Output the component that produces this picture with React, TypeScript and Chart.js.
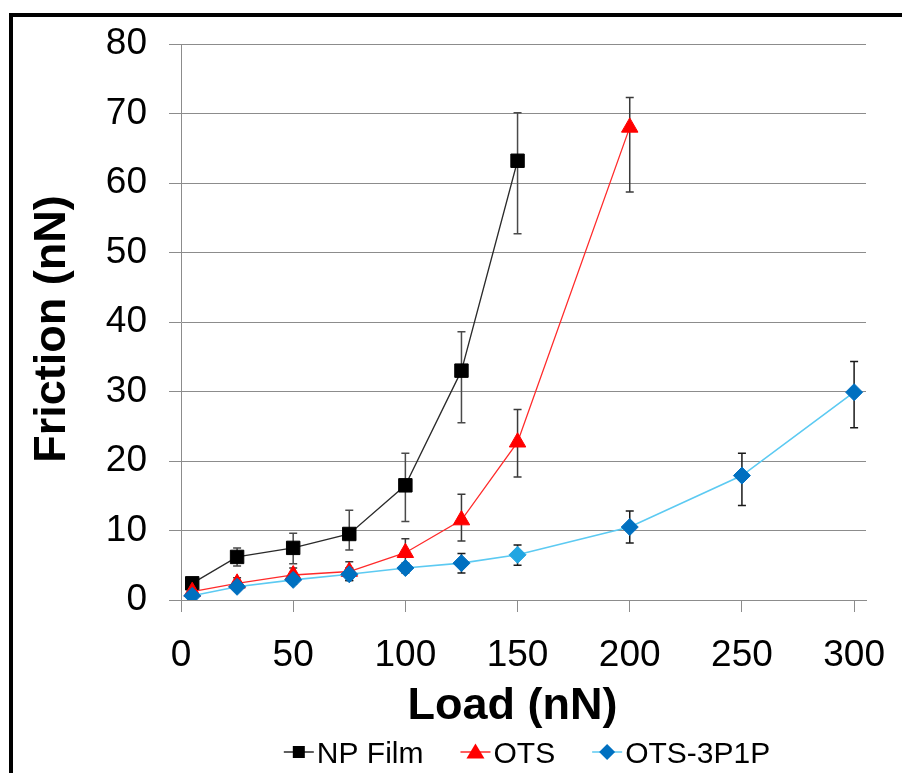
import React, { useEffect, useRef } from 'react';
import { Chart, registerables } from 'chart.js';

Chart.register(...registerables);

// ---- data ----
const seriesNames = ['NP Film', 'OTS', 'OTS-3P1P'];

const npLoad = [5, 25, 50, 75, 100, 125, 150];
const npFriction = [2.4, 6.2, 7.5, 9.5, 16.5, 33.0, 63.2];
const npErrPlus = [0.5, 1.3, 2.1, 3.4, 4.6, 5.6, 6.9];
const npErrMinus = [0.5, 1.3, 2.3, 2.3, 5.2, 7.5, 10.5];

const otsLoad = [5, 25, 50, 75, 100, 125, 150, 200];
const otsFriction = [1.2, 2.4, 3.6, 4.1, 6.8, 11.5, 22.7, 68.0];
const otsErrPlus = [0.5, 0.8, 1.0, 1.4, 2.0, 3.7, 4.7, 4.3];
const otsErrMinus = [0.5, 0.8, 1.0, 1.3, 2.0, 3.0, 5.0, 9.3];

const p1Load = [5, 25, 50, 75, 100, 125, 150, 200, 250, 300];
const p1Friction = [0.6, 1.9, 2.9, 3.7, 4.6, 5.3, 6.5, 10.5, 17.9, 29.9];
const p1ErrPlus = [0.3, 0.5, 0.6, 0.9, 0.7, 1.4, 1.4, 2.3, 3.2, 4.4];
const p1ErrMinus = [0.3, 0.5, 0.6, 0.9, 0.7, 1.4, 1.5, 2.3, 4.3, 5.1];

const xTickValues = [0, 50, 100, 150, 200, 250, 300];
const yTickValues = [0, 10, 20, 30, 40, 50, 60, 70, 80];
const xTitle = 'Load (nN)';
const yTitle = 'Friction (nN)';

const FONT = '"Liberation Sans", Arial, sans-serif';

function toPoints(xs: number[], ys: number[]) {
  return xs.map((x, i) => ({ x, y: ys[i] }));
}

function drawMarker(ctx: CanvasRenderingContext2D, style: string, x: number, y: number, color: string) {
  ctx.save();
  ctx.fillStyle = color;
  ctx.beginPath();
  if (style === 'rect') {
    ctx.rect(x - 6, y - 6, 12, 12);
  } else if (style === 'triangle') {
    ctx.moveTo(x, y - 8.5);
    ctx.lineTo(x + 9, y + 6.5);
    ctx.lineTo(x - 9, y + 6.5);
    ctx.closePath();
  } else {
    ctx.moveTo(x, y - 8);
    ctx.lineTo(x + 8, y);
    ctx.lineTo(x, y + 8);
    ctx.lineTo(x - 8, y);
    ctx.closePath();
  }
  ctx.fill();
  ctx.restore();
}

const errorBarPlugin = {
  id: 'errorBars',
  beforeDatasetsDraw(chart: any) {
    const ctx = chart.ctx;
    const yScale = chart.scales.y;
    chart.data.datasets.forEach((ds: any, i: number) => {
      const meta = chart.getDatasetMeta(i);
      ctx.save();
      ctx.strokeStyle = ds.errColor;
      ctx.lineWidth = 1.5;
      meta.data.forEach((pt: any, j: number) => {
        const v = ds.data[j].y;
        const top = yScale.getPixelForValue(v + ds.errPlus[j]);
        const bot = yScale.getPixelForValue(v - ds.errMinus[j]);
        const x = pt.x;
        ctx.beginPath();
        ctx.moveTo(x, top);
        ctx.lineTo(x, bot);
        ctx.moveTo(x - 4, top);
        ctx.lineTo(x + 4, top);
        ctx.moveTo(x - 4, bot);
        ctx.lineTo(x + 4, bot);
        ctx.stroke();
      });
      ctx.restore();
    });
  },
};

const titlesLegendPlugin = {
  id: 'titlesLegend',
  afterDraw(chart: any) {
    const ctx = chart.ctx;
    const area = chart.chartArea;
    ctx.save();
    // axis titles
    ctx.fillStyle = '#000';
    ctx.font = `bold 45px ${FONT}`;
    ctx.textAlign = 'center';
    ctx.textBaseline = 'alphabetic';
    ctx.fillText(xTitle, (area.left + area.right) / 2 - 11, area.bottom + 119);
    ctx.save();
    ctx.translate(area.left - 116, (area.top + area.bottom) / 2 + 7);
    ctx.rotate(-Math.PI / 2);
    ctx.fillText(yTitle, 0, 0);
    ctx.restore();

    // legend
    ctx.font = `30px ${FONT}`;
    const lineLen = 30;
    const gapText = 3;
    const gapItem = 37;
    const items = chart.data.datasets.map((ds: any) => ({
      ds,
      w: lineLen + gapText + ctx.measureText(ds.label).width,
    }));
    const total = items.reduce((a: number, b: any) => a + b.w, 0) + gapItem * (items.length - 1);
    let x = 527 - total / 2;
    const yMid = 752;
    items.forEach(({ ds, w }: any) => {
      ctx.strokeStyle = ds.borderColor;
      ctx.lineWidth = 1.5;
      ctx.beginPath();
      ctx.moveTo(x, yMid);
      ctx.lineTo(x + lineLen, yMid);
      ctx.stroke();
      drawMarker(ctx, ds.pointStyle, x + lineLen / 2, yMid, ds.backgroundColor);
      ctx.fillStyle = '#000';
      ctx.textAlign = 'left';
      ctx.textBaseline = 'alphabetic';
      ctx.fillText(ds.label, x + lineLen + gapText, 763);
      x += w + gapItem;
    });
    ctx.restore();
  },
};

export default function App() {
  const ref = useRef<HTMLCanvasElement>(null);

  useEffect(() => {
    const p1Colors = p1Load.map((_, i) => (i === 6 ? '#22a6e2' : '#0070c0'));
    const chart = new Chart(ref.current as HTMLCanvasElement, {
      type: 'line',
      data: {
        datasets: [
          {
            label: seriesNames[0],
            data: toPoints(npLoad, npFriction),
            borderColor: '#2a2a2a',
            borderWidth: 1.3,
            backgroundColor: '#000000',
            pointStyle: 'rect',
            pointRadius: 9.5,
            pointBackgroundColor: '#000000',
            pointBorderColor: '#000000',
            pointBorderWidth: 1,
            tension: 0,
            order: 2,
            errPlus: npErrPlus,
            errMinus: npErrMinus,
            errColor: '#4a4a4a',
          } as any,
          {
            label: seriesNames[1],
            data: toPoints(otsLoad, otsFriction),
            borderColor: '#ff2a2a',
            borderWidth: 1.3,
            backgroundColor: '#ff0000',
            pointStyle: 'triangle',
            pointRadius: 9.5,
            pointBackgroundColor: '#ff0000',
            pointBorderColor: '#ff0000',
            pointBorderWidth: 1,
            tension: 0,
            order: 1,
            errPlus: otsErrPlus,
            errMinus: otsErrMinus,
            errColor: '#3a3a3a',
          } as any,
          {
            label: seriesNames[2],
            data: toPoints(p1Load, p1Friction),
            borderColor: '#5ccaf2',
            borderWidth: 1.6,
            backgroundColor: '#0070c0',
            pointStyle: 'rectRot',
            pointRadius: 8.5,
            pointBackgroundColor: p1Colors,
            pointBorderColor: p1Colors,
            pointBorderWidth: 1,
            tension: 0,
            order: 0,
            errPlus: p1ErrPlus,
            errMinus: p1ErrMinus,
            errColor: '#1a1a1a',
          } as any,
        ],
      },
      options: {
        responsive: false,
        animation: false,
        devicePixelRatio: 1,
        layout: { padding: { left: 0, top: 44, right: 36, bottom: 93 } },
        plugins: {
          legend: { display: false },
          tooltip: { enabled: false },
        },
        scales: {
          x: {
            type: 'linear',
            min: 0,
            max: 305.3,
            afterBuildTicks: (s: any) => {
              s.ticks = xTickValues.map((value) => ({ value }));
            },
            afterFit: (s: any) => {
              s.height = 80;
              s.paddingLeft = 0;
              s.paddingRight = 0;
            },
            ticks: {
              font: { family: FONT, size: 37 },
              color: '#000',
              padding: 22,
              maxRotation: 0,
              autoSkip: false,
            },
            grid: {
              drawOnChartArea: false,
              drawTicks: true,
              tickLength: 12,
              color: '#8c8c8c',
              lineWidth: 1,
            },
            border: { display: true, color: '#8c8c8c', width: 1 },
          },
          y: {
            type: 'linear',
            min: 0,
            max: 80,
            afterBuildTicks: (s: any) => {
              s.ticks = yTickValues.map((value) => ({ value }));
            },
            afterFit: (s: any) => {
              s.width = 181;
              s.paddingTop = 0;
              s.paddingBottom = 0;
            },
            ticks: {
              font: { family: FONT, size: 37 },
              color: '#000',
              padding: 22,
            },
            grid: {
              drawTicks: true,
              tickLength: 12,
              color: '#8c8c8c',
              lineWidth: 1,
            },
            border: { display: true, color: '#8c8c8c', width: 1 },
          },
        },
      },
      plugins: [errorBarPlugin, titlesLegendPlugin],
    });
    return () => chart.destroy();
  }, []);

  return (
    <div
      style={{
        position: 'fixed',
        left: 0,
        top: 0,
        width: 902,
        height: 773,
        overflow: 'hidden',
        background: '#fff',
      }}
    >
      <div
        style={{
          position: 'absolute',
          left: 9,
          top: 13,
          width: 1000,
          height: 1000,
          border: '4px solid #000',
          boxSizing: 'border-box',
        }}
      />
      <canvas
        ref={ref}
        width={902}
        height={773}
        style={{ position: 'absolute', left: 0, top: 0, width: 902, height: 773 }}
      />
    </div>
  );
}
